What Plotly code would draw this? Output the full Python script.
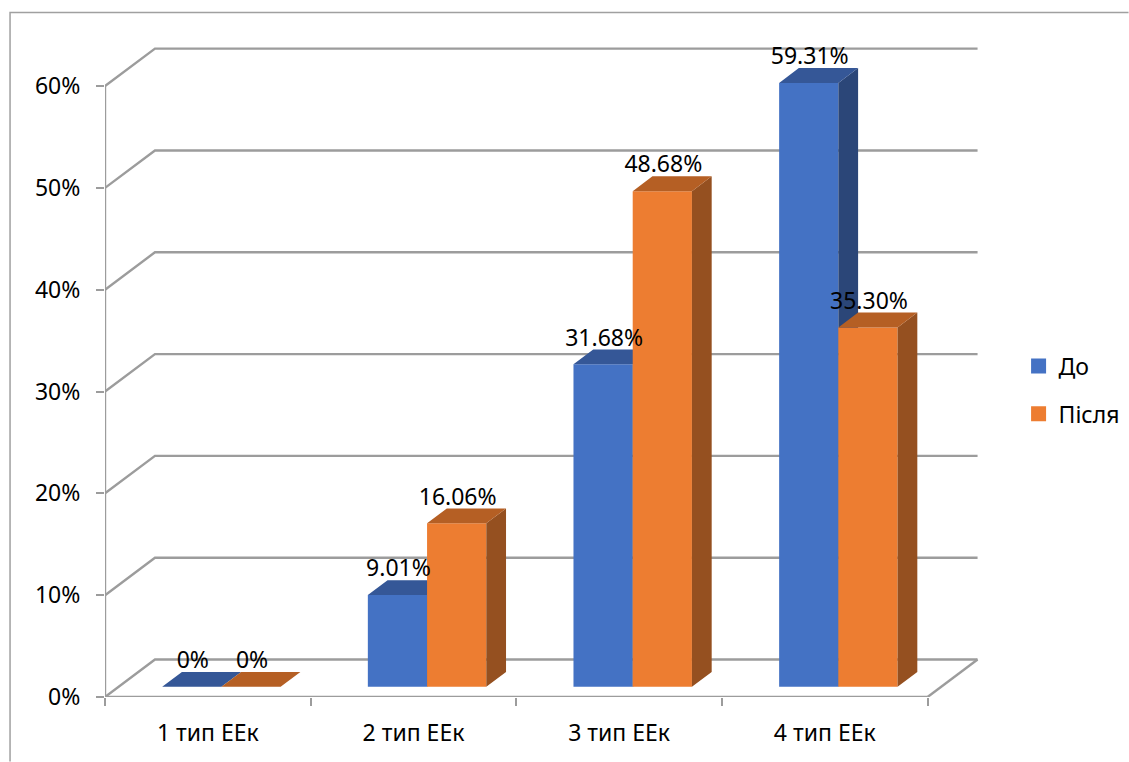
import plotly.graph_objects as go

categories = ["1 тип ЕЕк", "2 тип ЕЕк", "3 тип ЕЕк", "4 тип ЕЕк"]
series_names = ["До", "Після"]
before_values = [0, 9.01, 31.68, 59.31]
after_values = [0, 16.06, 48.68, 35.30]
before_labels = ["0%", "9.01%", "31.68%", "59.31%"]
after_labels = ["0%", "16.06%", "48.68%", "35.30%"]
y_ticks = [0, 10, 20, 30, 40, 50, 60]

FONT = "Noto Sans"
FONT_SIZE = 23
W, H = 1129, 762
LEFT, RIGHT, TOP, BOTTOM = 105, 149.6, 24.5, 64.5
X_MAX, Y_MAX = 4.25, 66

# oblique projection: one unit of depth moves a point this far across and up
DEPTH_X, DEPTH_Y = 0.243, 3.68
BAR_FRONT, BAR_DEPTH = 0.272, 0.395
BAR_WIDTH = 0.288
LABEL_LIFT = 2.4
GRID = "#9c9c9c"


def project(x, v, d):
    return x + d * DEPTH_X, v + d * DEPTH_Y


def polygon(points):
    xs = [p[0] for p in points] + [points[0][0], None]
    ys = [p[1] for p in points] + [points[0][1], None]
    return xs, ys


def add_series(fig, values, side, colors, axes):
    """Draw one series as a front bar plus projected top and side faces."""
    xaxis, yaxis = axes
    front, top, dark = colors
    top_x, top_y, side_x, side_y, lab_x, lab_y = [], [], [], [], [], []
    bar_x, base = [], project(0, 0, BAR_FRONT)
    for i, v in enumerate(values):
        x0 = i + 0.5 + (0 if side else -BAR_WIDTH)
        x1 = x0 + BAR_WIDTH
        fx0, fb = project(x0, 0, BAR_FRONT)
        fx1, ft = project(x1, v, BAR_FRONT)
        bx0, bt = project(x0, v, BAR_FRONT + BAR_DEPTH)
        bx1, bb = project(x1, 0, BAR_FRONT + BAR_DEPTH)
        bar_x.append((fx0 + fx1) / 2)
        xs, ys = polygon([(fx0, ft), (fx1, ft), (bx1, bt), (bx0, bt)])
        top_x += xs
        top_y += ys
        xs, ys = polygon([(fx1, fb), (fx1, ft), (bx1, bt), (bx1, bb)])
        side_x += xs
        side_y += ys
        lab_x.append((fx0 + fx1) / 2 + 0.005)
        lab_y.append(ft + LABEL_LIFT)
    fig.add_trace(go.Bar(x=bar_x, y=values, base=base[1], width=BAR_WIDTH,
                         marker=dict(color=front, line_width=0), showlegend=False,
                         hoverinfo="skip", xaxis=xaxis, yaxis=yaxis))
    for xs, ys, c in ((side_x, side_y, dark), (top_x, top_y, top)):
        fig.add_trace(go.Scatter(x=xs, y=ys, mode="lines", fill="toself", fillcolor=c,
                                 line=dict(width=0), showlegend=False, hoverinfo="skip",
                                 xaxis=xaxis, yaxis=yaxis))
    return lab_x, lab_y


fig = go.Figure()

# walls and floor of the box
wall_x, wall_y = [0, 0, None, 0, len(categories), None], [0, y_ticks[-1], None, 0, 0, None]
for v in y_ticks:
    bx, by = project(0, v, 1)
    ex, _ = project(len(categories), v, 1)
    wall_x += [0, bx, ex, None]
    wall_y += [v, by, by, None]
fx, fy = project(len(categories), 0, 1)
wall_x += [len(categories), fx, None]
wall_y += [0, fy, None]
fig.add_trace(go.Scatter(x=wall_x, y=wall_y, mode="lines", line=dict(color=GRID, width=2.4),
                         cliponaxis=False, showlegend=False, hoverinfo="skip"))

before_xy = add_series(fig, before_values, 0, ("#4472C4", "#355797", "#2B4678"), ("x2", "y2"))
after_xy = add_series(fig, after_values, 1, ("#ED7D31", "#B55F24", "#955020"), ("x3", "y3"))

# value labels sit on the top layer so no face can cover them
fig.add_trace(go.Scatter(x=before_xy[0] + after_xy[0], y=before_xy[1] + after_xy[1], mode="text",
                         text=before_labels + after_labels, textposition="middle center",
                         textfont=dict(family=FONT, size=FONT_SIZE, color="black"), cliponaxis=False,
                         showlegend=False, hoverinfo="skip", xaxis="x3", yaxis="y3"))

# legend keys
for name, color in zip(series_names, ("#4472C4", "#ED7D31")):
    fig.add_trace(go.Scatter(x=[None], y=[None], mode="markers", name=name, legendgroup=name,
                             marker=dict(symbol="square", size=15, color=color),
                             xaxis="x3", yaxis="y3"))

plot_w = W - LEFT - RIGHT
plot_h = H - TOP - BOTTOM
px_x = lambda p: (p - LEFT) / plot_w
px_y = lambda p: (H - BOTTOM - p) / plot_h

hidden = dict(visible=False, fixedrange=True)
fig.update_layout(
    width=W, height=H, autosize=False,
    margin=dict(l=LEFT, r=RIGHT, t=TOP, b=BOTTOM, pad=0, autoexpand=False),
    paper_bgcolor="white", plot_bgcolor="white",
    font=dict(family=FONT, size=FONT_SIZE, color="black"),
    barmode="overlay",
    xaxis=dict(range=[0, X_MAX], tickmode="array",
               tickvals=[i + 0.5 for i in range(len(categories))], ticktext=categories,
               ticks="", showgrid=False, zeroline=False, showline=False,
               ticklabelstandoff=20, tickfont=dict(family=FONT, size=FONT_SIZE),
               minor=dict(tickmode="array", tickvals=list(range(len(categories) + 1)),
                          ticks="outside", ticklen=8, tickwidth=1.5, tickcolor=GRID, showgrid=False)),
    yaxis=dict(range=[0, Y_MAX], tickmode="array", tickvals=y_ticks,
               ticktext=[f"{v}%" for v in y_ticks], ticks="outside", ticklen=8, tickwidth=1.5,
               tickcolor=GRID, showgrid=False, zeroline=False, showline=False,
               ticklabelstandoff=11, tickfont=dict(family=FONT, size=FONT_SIZE)),
    xaxis2=dict(overlaying="x", range=[0, X_MAX], **hidden),
    yaxis2=dict(overlaying="y", range=[0, Y_MAX], **hidden),
    xaxis3=dict(overlaying="x", range=[0, X_MAX], **hidden),
    yaxis3=dict(overlaying="y", range=[0, Y_MAX], **hidden),
    legend=dict(x=px_x(1019), y=px_y(390), xanchor="left", yanchor="middle",
                font=dict(family=FONT, size=FONT_SIZE), tracegroupgap=15,
                bgcolor="rgba(0,0,0,0)", borderwidth=0),
    shapes=[dict(type="path", xref="paper", yref="paper", layer="below",
                 path=f"M {px_x(10)} {px_y(H)} L {px_x(10)} {px_y(12)} L {px_x(W)} {px_y(12)}",
                 line=dict(color="#a0a0a0", width=1.5))],
)

fig.write_html("out.html")
